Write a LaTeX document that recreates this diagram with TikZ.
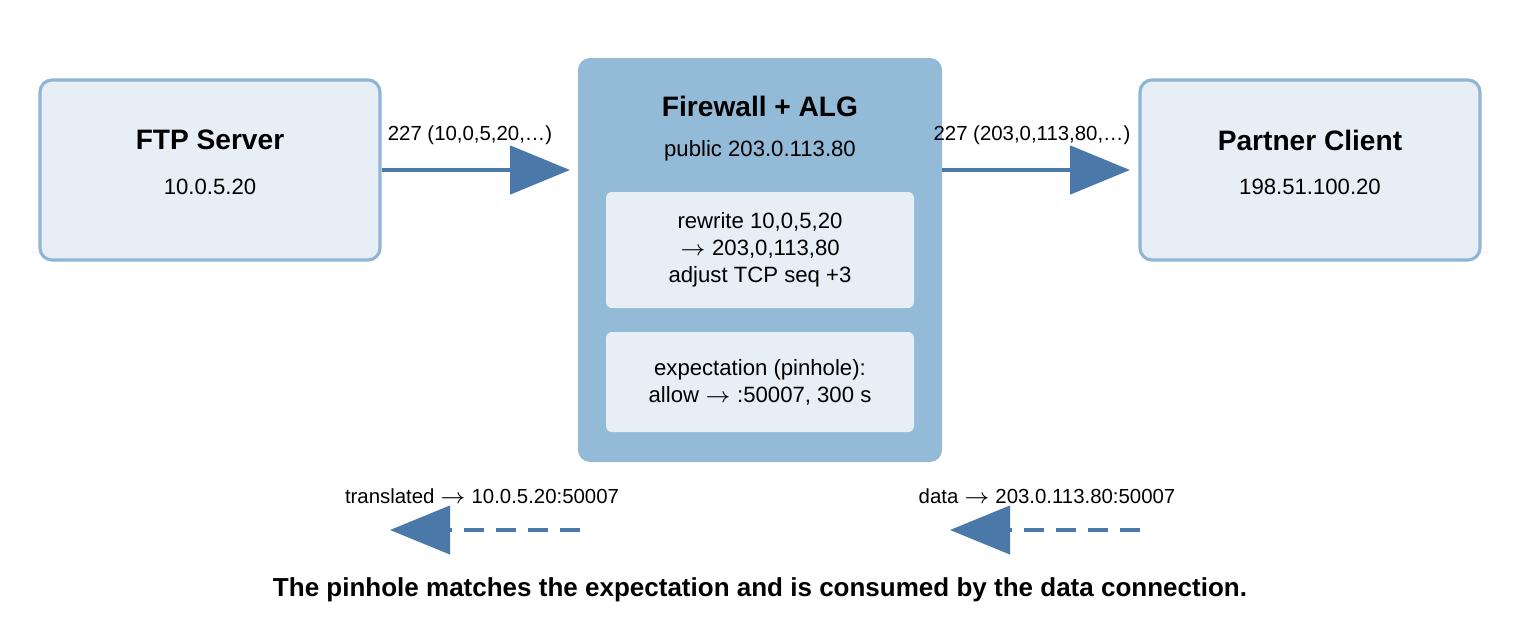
\documentclass[tikz,border=0pt]{standalone}
\usepackage{fontspec}
\setmainfont{Liberation Sans}
\usetikzlibrary{positioning,arrows.meta}
\definecolor{boxfill}{HTML}{E8EEF5}
\definecolor{boxline}{HTML}{8FB6D4}
\definecolor{fwfill}{HTML}{93BAD6}
\definecolor{flow}{HTML}{4A78A8}
\tikzset{
  host/.style={draw=boxline, line width=0.9pt, fill=boxfill, rounded corners=1.2mm,
    minimum width=34mm, minimum height=18mm},
  title/.style={font=\fontsize{8pt}{10pt}\selectfont\bfseries},
  addr/.style={font=\fontsize{6.3pt}{8pt}\selectfont},
  inner/.style={fill=boxfill, rounded corners=0.6mm, minimum width=30.8mm, align=center,
    font=\fontsize{6.3pt}{7.7pt}\selectfont},
  flowarrow/.style={draw=flow, line width=1.4pt, -{Triangle[length=6mm,width=4.8mm]}},
  backarrow/.style={draw=flow, line width=1.2pt, dash pattern=on 2mm off 1.2mm,
    -{Triangle[length=6mm,width=4.8mm]}},
  lbl/.style={font=\fontsize{5.8pt}{7pt}\selectfont}
}
\begin{document}
\begin{tikzpicture}
  \useasboundingbox (0,0) rectangle (15.2,6.4);
  % hosts
  \node[host] (ftp) at (2.1,4.7) {};
  \node[title] (ftpname) at (2.1,5.0) {FTP Server};
  \node[addr] (ftpip) at (2.1,4.53) {10.0.5.20};
  \node[host] (partner) at (13.1,4.7) {};
  \node[title] (ptname) at (13.1,5.0) {Partner Client};
  \node[addr] (ptip) at (13.1,4.53) {198.51.100.20};
  % firewall
  \node[fill=fwfill, rounded corners=1.2mm, minimum width=36.4mm, minimum height=40.4mm] (fw) at (7.6,3.8) {};
  \node[title] (fwtitle) at (7.6,5.34) {Firewall + ALG};
  \node[addr] (fwip) at (7.6,4.89) {public 203.0.113.80};
  \node[inner, minimum height=11.6mm] (rewrite) at (7.6,3.9) {rewrite 10,0,5,20\\$\rightarrow$ 203,0,113,80\\adjust TCP seq +3};
  \node[inner, minimum height=10mm] (pinhole) at (7.6,2.58) {expectation (pinhole):\\allow $\rightarrow$ :50007, 300 s};
  % control connection
  \coordinate (fwin) at (5.7,4.7);
  \coordinate (fwout) at (9.42,4.7);
  \coordinate (ptin) at (11.3,4.7);
  \draw[flowarrow] (ftp.east) -- (fwin);
  \draw[flowarrow] (fwout) -- (ptin);
  \node[lbl] (l1) at (4.7,5.05) {227 (10,0,5,20,…)};
  \node[lbl] (l2) at (10.32,5.05) {227 (203,0,113,80,…)};
  % data connection
  \coordinate (d1s) at (5.8,1.1);
  \coordinate (d1e) at (3.9,1.1);
  \coordinate (d2s) at (11.4,1.1);
  \coordinate (d2e) at (9.5,1.1);
  \draw[backarrow] (d1s) -- (d1e);
  \draw[backarrow] (d2s) -- (d2e);
  \node[lbl] (l3) at (4.82,1.44) {translated $\rightarrow$ 10.0.5.20:50007};
  \node[lbl] (l4) at (10.47,1.44) {data $\rightarrow$ 203.0.113.80:50007};
  \node[font=\fontsize{7.4pt}{9pt}\selectfont\bfseries] (caption) at (7.6,0.5) {The pinhole matches the expectation and is consumed by the data connection.};
\end{tikzpicture}
\end{document}
